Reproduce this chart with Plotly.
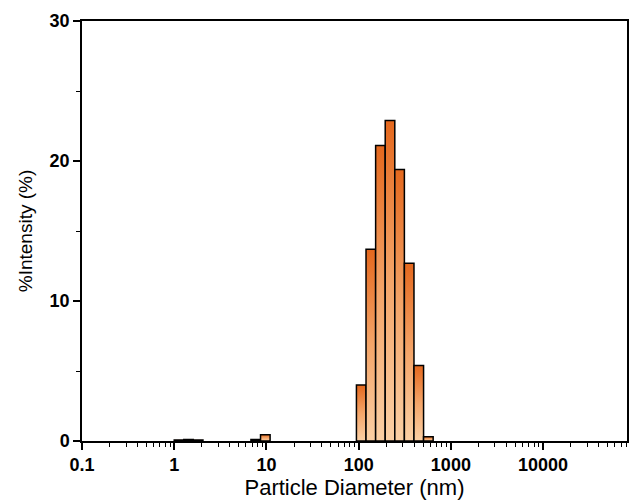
import plotly.graph_objects as go

# Bin edges (nm) and % intensity
bin_lo = [1.00, 1.27, 1.61, 6.79, 8.63, 94.6, 120.2, 152.8, 194.1, 246.6, 313.3, 398.1, 505.8]
bin_hi = [1.27, 1.61, 2.05, 8.63, 10.96, 120.2, 152.8, 194.1, 246.6, 313.3, 398.1, 505.8, 642.7]
intensity = [0.08, 0.1, 0.08, 0.1, 0.45, 4.0, 13.7, 21.1, 22.9, 19.4, 12.7, 5.4, 0.3]

x_tickvals = [0.1, 1, 10, 100, 1000, 10000]
x_ticktext = ["0.1", "1", "10", "100", "1000", "10000"]
y_tickvals = [0, 10, 20, 30]

fig = go.Figure()
for lo, hi, h in zip(bin_lo, bin_hi, intensity):
    fig.add_trace(go.Scatter(
        x=[lo, lo, hi, hi, lo], y=[0, h, h, 0, 0],
        mode="lines", fill="toself",
        fillgradient=dict(type="vertical",
                          colorscale=[[0, "rgb(251,208,165)"], [0.5, "rgb(244,165,105)"], [1, "rgb(228,104,30)"]]),
        line=dict(color="black", width=1.5),
        hoverinfo="skip", showlegend=False))

minor_x = [m * 10 ** e for e in range(-1, 5) for m in range(2, 10)]

fig.update_layout(
    width=630, height=501,
    margin=dict(l=82, r=1, t=21, b=60),
    paper_bgcolor="white", plot_bgcolor="white",
    font=dict(family="Liberation Sans, Arial", color="black"),
)
fig.update_xaxes(
    type="log", range=[-1, 4.91],
    tickmode="array", tickvals=x_tickvals, ticktext=x_ticktext,
    ticks="outside", ticklen=7, tickwidth=1.5, tickcolor="black",
    minor=dict(tickmode="array", tickvals=minor_x, ticks="outside", ticklen=4, tickwidth=1, tickcolor="black"),
    showline=True, linecolor="black", linewidth=1.5, mirror=True,
    showgrid=False, zeroline=False,
    tickfont=dict(size=18, weight="bold"),
    title=dict(text="Particle Diameter (nm)", font=dict(size=22), standoff=2),
)
fig.update_yaxes(
    range=[0, 30],
    tickmode="array", tickvals=y_tickvals,
    ticks="outside", ticklen=7, tickwidth=1.5, tickcolor="black",
    minor=dict(dtick=5, ticks="outside", ticklen=4, tickwidth=1, tickcolor="black"),
    showline=True, linecolor="black", linewidth=1.5, mirror=True,
    showgrid=False, zeroline=False,
    tickfont=dict(size=18, weight="bold"),
    title=dict(text="%Intensity (%)", font=dict(size=19), standoff=12),
)
fig.write_html("out.html")
